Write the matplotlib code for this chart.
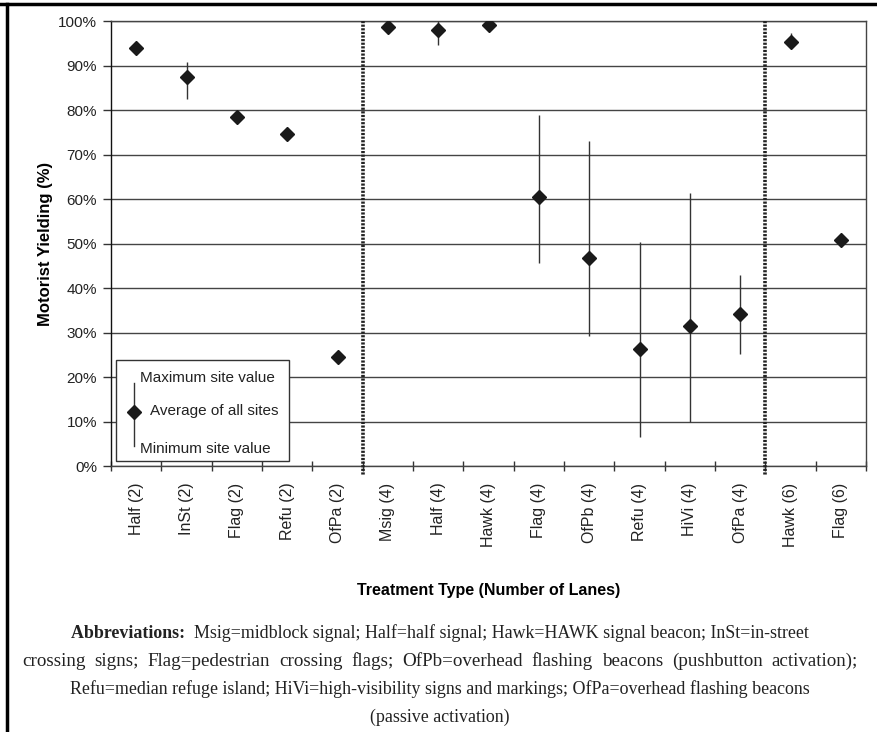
import matplotlib
matplotlib.use("Agg")
import matplotlib.pyplot as plt
from matplotlib.patches import Rectangle
from matplotlib.lines import Line2D
import numpy as np

# datos
categorias = ["Half (2)", "InSt (2)", "Flag (2)", "Refu (2)", "OfPa (2)",
              "Msig (4)", "Half (4)", "Hawk (4)", "Flag (4)", "OfPb (4)",
              "Refu (4)", "HiVi (4)", "OfPa (4)", "Hawk (6)", "Flag (6)"]
promedio = [94.0, 87.5, 78.5, 74.5, 24.6,
            98.6, 98.0, 99.1, 60.4, 46.7,
            26.2, 31.5, 34.1, 95.3, 50.8]
maximo = [94.0, 90.7, 78.5, 74.5, 24.6,
          98.6, 100.0, 99.1, 78.9, 73.1,
          50.3, 61.3, 42.9, 97.2, 51.5]
minimo = [94.0, 82.4, 78.5, 74.5, 24.6,
          98.6, 94.5, 99.1, 45.7, 29.3,
          6.6, 10.0, 25.2, 93.9, 50.2]
separadores = [5, 13]  # cambio de numero de carriles

plt.rcParams["font.family"] = ["Liberation Sans", "DejaVu Sans"]

fig = plt.figure(figsize=(8.77, 7.32), dpi=100)
W, H = 877, 732
ax = fig.add_axes([111 / W, 1 - 466 / H, 755 / W, 445 / H])

x = np.arange(len(categorias)) + 0.5
ax.vlines(x, minimo, maximo, color="#333333", lw=1.0, zorder=3)
ax.plot(x, promedio, linestyle="none", marker="D", ms=7.2,
        color="#1a1a1a", zorder=4)

for s in separadores:
    ax.plot([s, s], [100, -2], color="#222222", lw=2.6, linestyle=(0, (0.6, 0.4)),
            clip_on=False, zorder=5)

ax.set_xlim(0, len(categorias))
ax.set_ylim(0, 100)
ax.set_yticks(np.arange(0, 101, 10))
ax.set_yticklabels([f"{v}%" for v in range(0, 101, 10)], fontsize=11, color="#222222")
ax.yaxis.grid(True, color="#444444", lw=1.0)
ax.set_axisbelow(True)

ax.set_xticks(x)
ax.set_xticklabels(categorias, rotation=90, fontsize=11.5, color="#222222")
ax.set_xticks(np.arange(len(categorias) + 1), minor=True)
ax.tick_params(axis="x", which="major", length=0, pad=12)
ax.tick_params(axis="x", which="minor", length=7, width=1, color="#333333", direction="inout")
ax.tick_params(axis="y", length=6, width=1, color="#333333", pad=4)

for lado in ["left", "right", "top", "bottom"]:
    ax.spines[lado].set_color("#444444")
    ax.spines[lado].set_linewidth(1.0)
ax.spines["left"].set_color("#111111")

ax.set_ylabel("Motorist Yielding (%)", fontsize=12, fontweight="bold", labelpad=4)
ax.set_xlabel("Treatment Type (Number of Lanes)", fontsize=11.5, fontweight="bold", labelpad=26)

# leyenda dibujada a mano
fig.patches.append(Rectangle((116 / W, 1 - 461 / H), 173 / W, 101 / H,
                             transform=fig.transFigure, facecolor="white",
                             edgecolor="#333333", lw=1.0, zorder=10))
fig.lines.append(Line2D([134 / W, 134 / W], [1 - 383 / H, 1 - 446 / H],
                        transform=fig.transFigure, color="#333333", lw=1.0, zorder=11))
fig.lines.append(Line2D([134 / W], [1 - 412 / H], transform=fig.transFigure,
                        marker="D", ms=7.2, color="#1a1a1a", linestyle="none", zorder=12))
fig.text(140 / W, 1 - 378 / H, "Maximum site value", fontsize=11, va="center", color="#222222", zorder=12)
fig.text(150 / W, 1 - 411 / H, "Average of all sites", fontsize=11, va="center", color="#222222", zorder=12)
fig.text(140 / W, 1 - 449 / H, "Minimum site value", fontsize=11, va="center", color="#222222", zorder=12)

# marco de la pagina
fig.lines.append(Line2D([0, 1], [1 - 4 / H, 1 - 4 / H], transform=fig.transFigure, color="black", lw=2.5))
fig.lines.append(Line2D([7 / W, 7 / W], [0, 1 - 4 / H], transform=fig.transFigure, color="black", lw=2.5))

# abreviaturas
serif = ["Liberation Serif", "DejaVu Serif"]
tam = 12.9
fig.canvas.draw()
r = fig.canvas.get_renderer()

linea3 = "Refu=median refuge island; HiVi=high-visibility signs and markings; OfPa=overhead flashing beacons"
linea4 = "(passive activation)"
fig.text(440 / W, 1 - 689 / H, linea3, family=serif, fontsize=tam, ha="center", va="center", color="#222222")
fig.text(440 / W, 1 - 717 / H, linea4, family=serif, fontsize=tam, ha="center", va="center", color="#222222")

# linea 2 justificada entre x=22 y x=858
linea2 = "crossing signs; Flag=pedestrian crossing flags; OfPb=overhead flashing beacons (pushbutton activation);"
palabras = linea2.split(" ")
objs = [fig.text(0, 1 - 661 / H, p, family=serif, fontsize=13.7, va="center", color="#222222")
        for p in palabras]
anchos = [o.get_window_extent(r).width for o in objs]
hueco = (858 - 22 - sum(anchos)) / (len(palabras) - 1)
xx = 22
for o, a in zip(objs, anchos):
    o.set_x(xx / W)
    xx += a + hueco

negrita = "Abbreviations:  "
normal = "Msig=midblock signal; Half=half signal; Hawk=HAWK signal beacon; InSt=in-street"
t1 = fig.text(0, 1 - 633 / H, negrita, family=serif, fontsize=tam, fontweight="bold", va="center", color="#222222")
t2 = fig.text(0, 1 - 633 / H, normal, family=serif, fontsize=tam, va="center", color="#222222")
w1 = t1.get_window_extent(r).width
w2 = t2.get_window_extent(r).width
x0 = 440 - (w1 + w2) / 2
t1.set_x(x0 / W)
t2.set_x((x0 + w1) / W)

fig.savefig("out.png", dpi=100)
